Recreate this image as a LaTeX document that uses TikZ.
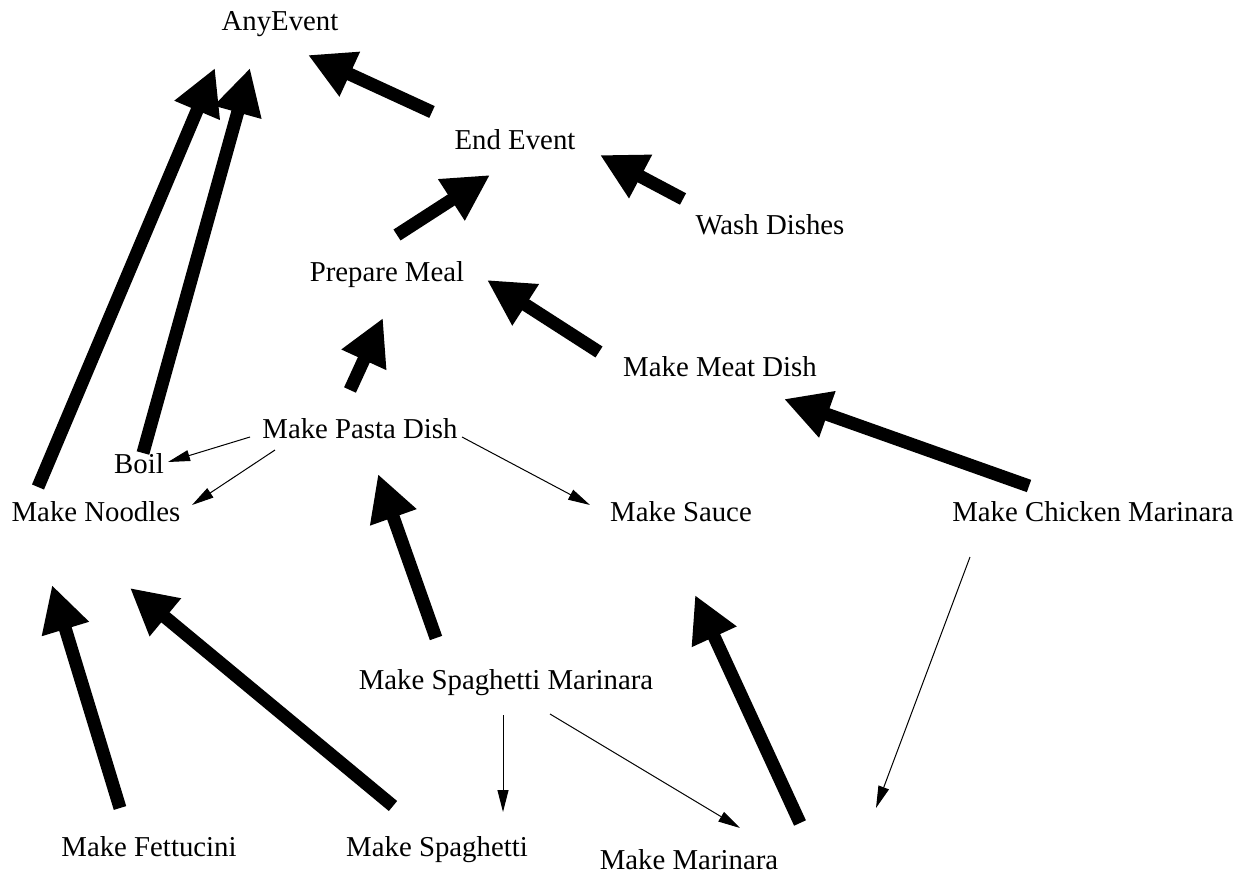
\documentclass[tikz,border=0pt]{standalone}
\usepackage{fontspec}
\setmainfont{Liberation Serif}
\usetikzlibrary{arrows.meta}
\usetikzlibrary{positioning}
\tikzset{
  evt/.style={inner sep=0pt, text height=1.02em, text depth=0.2em, font=\fontsize{14.4}{17}\selectfont},
  heavy/.style={line width=6.5pt, -{Triangle[length=23pt,width=23pt]}},
  light/.style={line width=0.5pt, -{Triangle[length=11pt,width=5.5pt]}}
}

\begin{document}
\begin{tikzpicture}[x=0.5pt,y=-0.5pt]
\useasboundingbox (0,0) rectangle (1248,878);
\node[evt] (anyevent) at (280,22) {AnyEvent};
\node[evt] (endevent) at (515,141) {End Event};
\node[evt] (wash) at (770,226) {Wash Dishes};
\node[evt] (prepare) at (387,273) {Prepare Meal};
\node[evt] (meat) at (720,368) {Make Meat Dish};
\node[evt] (pasta) at (360,430) {Make Pasta Dish};
\node[evt] (boil) at (139,465) {Boil};
\node[evt] (noodles) at (96,513) {Make Noodles};
\node[evt] (sauce) at (681,513) {Make Sauce};
\node[evt] (chicken) at (1093,513) {Make Chicken Marinara};
\node[evt] (spagmar) at (506,681) {Make Spaghetti Marinara};
\node[evt] (fettucini) at (149,848) {Make Fettucini};
\node[evt] (spaghetti) at (437,848) {Make Spaghetti};
\node[evt] (marinara) at (689,861) {Make Marinara};
% heavy edges
 \draw[heavy] ([shift={(-83,-29)}]endevent.center) -- ([shift={(28,33)}]anyevent.center);
 \draw[heavy] ([shift={(-58,-26)}]noodles.center) -- ([shift={(-65,46)}]anyevent.center);
 \draw[heavy] ([shift={(4,-12)}]boil.center) -- ([shift={(-30,46)}]anyevent.center);
 \draw[heavy] ([shift={(10,-38)}]prepare.center) -- ([shift={(-25,34)}]endevent.center);
 \draw[heavy] ([shift={(-87,-27)}]wash.center) -- ([shift={(85,14)}]endevent.center);
 \draw[heavy] ([shift={(-121,-16)}]meat.center) -- ([shift={(100,7)}]prepare.center);
 \draw[heavy] ([shift={(-10,-40)}]pasta.center) -- ([shift={(-4,45)}]prepare.center);
 \draw[heavy] ([shift={(-64,-27)}]chicken.center) -- ([shift={(64,31)}]meat.center);
 \draw[heavy] ([shift={(-70,-43)}]spagmar.center) -- ([shift={(18,44)}]pasta.center);
 \draw[heavy] ([shift={(-29,-40)}]fettucini.center) -- ([shift={(-44,72)}]noodles.center);
 \draw[heavy] ([shift={(-44,-42)}]spaghetti.center) -- ([shift={(34,75)}]noodles.center);
 \draw[heavy] ([shift={(111,-38)}]marinara.center) -- ([shift={(14,82)}]sauce.center);
% light edges
 \draw[light] ([shift={(-110,7)}]pasta.center) -- ([shift={(29,-3)}]boil.center);
 \draw[light] ([shift={(-85,20)}]pasta.center) -- ([shift={(96,-8)}]noodles.center);
 \draw[light] ([shift={(102,7)}]pasta.center) -- ([shift={(-91,-8)}]sauce.center);
 \draw[light] ([shift={(-3,34)}]spagmar.center) -- ([shift={(66,-36)}]spaghetti.center);
 \draw[light] ([shift={(44,33)}]spagmar.center) -- ([shift={(51,-33)}]marinara.center);
 \draw[light] ([shift={(-123,44)}]chicken.center) -- ([shift={(187,-53)}]marinara.center);
\end{tikzpicture}
\end{document}
